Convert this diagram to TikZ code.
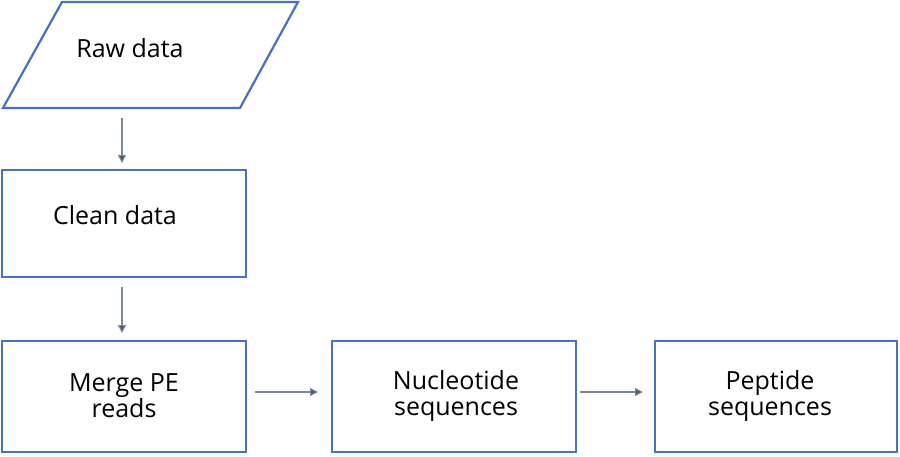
\documentclass[tikz,border=0pt]{standalone}
\usepackage{fontspec}
\setmainfont{Open Sans}
\usetikzlibrary{arrows.meta}
\definecolor{bd}{HTML}{4472C4}
\definecolor{ar}{HTML}{44546A}
\begin{document}
\begin{tikzpicture}[x=1pt,y=-1pt,
 box/.style={draw=bd,line width=2.2pt,fill=white},
 lab/.style={font=\fontsize{25}{30}\selectfont,align=center,text=black},
 arr/.style={draw=ar!70,line width=1.2pt,-{Triangle[length=8pt,width=8pt,fill=ar]}}]
\useasboundingbox (0,0) rectangle (900,456);
\draw[box] (62,2) -- (298,2) -- (240,108) -- (3,108) -- cycle;
\node[lab] (raw) at (130,48) {Raw data};
\coordinate (rawb) at (122,118);
\draw[box] (2,170) rectangle (246,277);
\node[lab] (clean) at (115,215) {Clean data};
\coordinate (cleant) at (122,163);
\coordinate (cleanb) at (122,287);
\draw[box] (2,341) rectangle (246,452);
\node[lab] (merge) at (124,396) {Merge PE\\[-4pt]reads};
\coordinate (merget) at (122,333);
\coordinate (merger) at (255,392);
\draw[box] (332,341) rectangle (576,452);
\node[lab] (nuc) at (456,396) {Nucleotide\\[-4pt]sequences};
\coordinate (nucl) at (318,392);
\coordinate (nucr) at (580,392);
\draw[box] (655,341) rectangle (897,452);
\node[lab] (pep) at (770,396) {Peptide\\[-4pt]sequences};
\coordinate (pepl) at (643,392);
\draw[arr] (rawb) -- (cleant);
\draw[arr] (cleanb) -- (merget);
\draw[arr] (merger) -- (nucl);
\draw[arr] (nucr) -- (pepl);
\end{tikzpicture}
\end{document}
